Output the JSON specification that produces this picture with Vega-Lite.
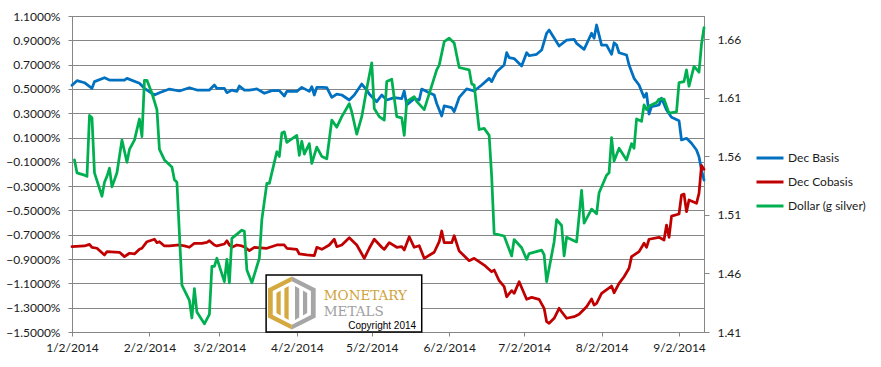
{
  "$schema": "https://vega.github.io/schema/vega-lite/v6.json",
  "width": 632,
  "height": 316,
  "autosize": {"type": "none"},
  "padding": {"left": 72, "top": 16, "right": 177, "bottom": 35},
  "background": "white",
  "config": {
    "font": "Lato",
    "view": {"stroke": "#868686", "strokeWidth": 1},
    "axis": {"labelFont": "Lato", "labelFontSize": 12, "labelColor": "#1a1a1a", "domainColor": "#868686", "tickColor": "#868686", "title": null},
    "legend": {"labelFont": "Lato", "labelFontSize": 12, "labelColor": "#1a1a1a"}
  },
  "datasets": {
    "logo": [
      {"x1": "2014-03-20T17:00:00Z", "x2": "2014-05-22T00:00:00Z", "y1": -1.03, "y2": -1.5, "cx": "2014-03-31T00:00:00Z", "cy": -1.261}
    ],
    "words": [
      {"t": "MONETARY", "x": "2014-04-12T19:00:00Z", "y": -1.237, "c": "#CFA33A"},
      {"t": "METALS", "x": "2014-04-12T19:00:00Z", "y": -1.368, "c": "#A0A0A0"}
    ],
    "copy": [
      {"t": "Copyright 2014", "x": "2014-05-19T18:00:00Z", "y": -1.476}
    ],
    "series": [
      {"d":"2014-01-02","s":"Dec Basis","v":0.53},
      {"d":"2014-01-04","s":"Dec Basis","v":0.568},
      {"d":"2014-01-07","s":"Dec Basis","v":0.551},
      {"d":"2014-01-10","s":"Dec Basis","v":0.505},
      {"d":"2014-01-11","s":"Dec Basis","v":0.56},
      {"d":"2014-01-15","s":"Dec Basis","v":0.592},
      {"d":"2014-01-17","s":"Dec Basis","v":0.573},
      {"d":"2014-01-23","s":"Dec Basis","v":0.573},
      {"d":"2014-01-24","s":"Dec Basis","v":0.587},
      {"d":"2014-01-29","s":"Dec Basis","v":0.546},
      {"d":"2014-01-31","s":"Dec Basis","v":0.505},
      {"d":"2014-02-04","s":"Dec Basis","v":0.45},
      {"d":"2014-02-06","s":"Dec Basis","v":0.469},
      {"d":"2014-02-10","s":"Dec Basis","v":0.499},
      {"d":"2014-02-14","s":"Dec Basis","v":0.483},
      {"d":"2014-02-18","s":"Dec Basis","v":0.51},
      {"d":"2014-02-21","s":"Dec Basis","v":0.491},
      {"d":"2014-02-26","s":"Dec Basis","v":0.491},
      {"d":"2014-02-28","s":"Dec Basis","v":0.532},
      {"d":"2014-03-01","s":"Dec Basis","v":0.505},
      {"d":"2014-03-04","s":"Dec Basis","v":0.505},
      {"d":"2014-03-05","s":"Dec Basis","v":0.469},
      {"d":"2014-03-07","s":"Dec Basis","v":0.49},
      {"d":"2014-03-09","s":"Dec Basis","v":0.48},
      {"d":"2014-03-10","s":"Dec Basis","v":0.524},
      {"d":"2014-03-12","s":"Dec Basis","v":0.49},
      {"d":"2014-03-14","s":"Dec Basis","v":0.49},
      {"d":"2014-03-17","s":"Dec Basis","v":0.5},
      {"d":"2014-03-20","s":"Dec Basis","v":0.464},
      {"d":"2014-03-23","s":"Dec Basis","v":0.486},
      {"d":"2014-03-26","s":"Dec Basis","v":0.486},
      {"d":"2014-03-28","s":"Dec Basis","v":0.442},
      {"d":"2014-03-29","s":"Dec Basis","v":0.48},
      {"d":"2014-04-02","s":"Dec Basis","v":0.48},
      {"d":"2014-04-04","s":"Dec Basis","v":0.513},
      {"d":"2014-04-07","s":"Dec Basis","v":0.48},
      {"d":"2014-04-08","s":"Dec Basis","v":0.518},
      {"d":"2014-04-09","s":"Dec Basis","v":0.45},
      {"d":"2014-04-10","s":"Dec Basis","v":0.513},
      {"d":"2014-04-12","s":"Dec Basis","v":0.513},
      {"d":"2014-04-14","s":"Dec Basis","v":0.51},
      {"d":"2014-04-16","s":"Dec Basis","v":0.43},
      {"d":"2014-04-18","s":"Dec Basis","v":0.458},
      {"d":"2014-04-20","s":"Dec Basis","v":0.45},
      {"d":"2014-04-23","s":"Dec Basis","v":0.409},
      {"d":"2014-04-25","s":"Dec Basis","v":0.45},
      {"d":"2014-04-28","s":"Dec Basis","v":0.54},
      {"d":"2014-04-30","s":"Dec Basis","v":0.491},
      {"d":"2014-05-01","s":"Dec Basis","v":0.458},
      {"d":"2014-05-04","s":"Dec Basis","v":0.395},
      {"d":"2014-05-06","s":"Dec Basis","v":0.45},
      {"d":"2014-05-08","s":"Dec Basis","v":0.409},
      {"d":"2014-05-11","s":"Dec Basis","v":0.428},
      {"d":"2014-05-14","s":"Dec Basis","v":0.42},
      {"d":"2014-05-15","s":"Dec Basis","v":0.483},
      {"d":"2014-05-16","s":"Dec Basis","v":0.368},
      {"d":"2014-05-19","s":"Dec Basis","v":0.42},
      {"d":"2014-05-21","s":"Dec Basis","v":0.409},
      {"d":"2014-05-22","s":"Dec Basis","v":0.499},
      {"d":"2014-05-25","s":"Dec Basis","v":0.469},
      {"d":"2014-05-27","s":"Dec Basis","v":0.45},
      {"d":"2014-05-28","s":"Dec Basis","v":0.38},
      {"d":"2014-05-30","s":"Dec Basis","v":0.277},
      {"d":"2014-05-31","s":"Dec Basis","v":0.36},
      {"d":"2014-06-03","s":"Dec Basis","v":0.346},
      {"d":"2014-06-04","s":"Dec Basis","v":0.313},
      {"d":"2014-06-06","s":"Dec Basis","v":0.43},
      {"d":"2014-06-09","s":"Dec Basis","v":0.5},
      {"d":"2014-06-12","s":"Dec Basis","v":0.483},
      {"d":"2014-06-15","s":"Dec Basis","v":0.532},
      {"d":"2014-06-18","s":"Dec Basis","v":0.587},
      {"d":"2014-06-19","s":"Dec Basis","v":0.56},
      {"d":"2014-06-21","s":"Dec Basis","v":0.642},
      {"d":"2014-06-24","s":"Dec Basis","v":0.697},
      {"d":"2014-06-25","s":"Dec Basis","v":0.798},
      {"d":"2014-06-26","s":"Dec Basis","v":0.757},
      {"d":"2014-06-28","s":"Dec Basis","v":0.75},
      {"d":"2014-07-01","s":"Dec Basis","v":0.689},
      {"d":"2014-07-03","s":"Dec Basis","v":0.798},
      {"d":"2014-07-04","s":"Dec Basis","v":0.773},
      {"d":"2014-07-07","s":"Dec Basis","v":0.785},
      {"d":"2014-07-09","s":"Dec Basis","v":0.82},
      {"d":"2014-07-11","s":"Dec Basis","v":0.958},
      {"d":"2014-07-12","s":"Dec Basis","v":0.985},
      {"d":"2014-07-16","s":"Dec Basis","v":0.853},
      {"d":"2014-07-19","s":"Dec Basis","v":0.902},
      {"d":"2014-07-22","s":"Dec Basis","v":0.908},
      {"d":"2014-07-23","s":"Dec Basis","v":0.875},
      {"d":"2014-07-26","s":"Dec Basis","v":0.826},
      {"d":"2014-07-29","s":"Dec Basis","v":0.958},
      {"d":"2014-07-30","s":"Dec Basis","v":0.917},
      {"d":"2014-07-31","s":"Dec Basis","v":1.026},
      {"d":"2014-08-02","s":"Dec Basis","v":0.861},
      {"d":"2014-08-04","s":"Dec Basis","v":0.861},
      {"d":"2014-08-06","s":"Dec Basis","v":0.785},
      {"d":"2014-08-07","s":"Dec Basis","v":0.88},
      {"d":"2014-08-08","s":"Dec Basis","v":0.861},
      {"d":"2014-08-09","s":"Dec Basis","v":0.798},
      {"d":"2014-08-12","s":"Dec Basis","v":0.779},
      {"d":"2014-08-13","s":"Dec Basis","v":0.697},
      {"d":"2014-08-15","s":"Dec Basis","v":0.587},
      {"d":"2014-08-17","s":"Dec Basis","v":0.532},
      {"d":"2014-08-19","s":"Dec Basis","v":0.431},
      {"d":"2014-08-20","s":"Dec Basis","v":0.464},
      {"d":"2014-08-21","s":"Dec Basis","v":0.294},
      {"d":"2014-08-22","s":"Dec Basis","v":0.354},
      {"d":"2014-08-25","s":"Dec Basis","v":0.368},
      {"d":"2014-08-26","s":"Dec Basis","v":0.423},
      {"d":"2014-08-28","s":"Dec Basis","v":0.327},
      {"d":"2014-08-30","s":"Dec Basis","v":0.267},
      {"d":"2014-09-02","s":"Dec Basis","v":0.239},
      {"d":"2014-09-03","s":"Dec Basis","v":0.08},
      {"d":"2014-09-05","s":"Dec Basis","v":0.094},
      {"d":"2014-09-07","s":"Dec Basis","v":0.053},
      {"d":"2014-09-09","s":"Dec Basis","v":-0.003},
      {"d":"2014-09-10","s":"Dec Basis","v":-0.058},
      {"d":"2014-09-11","s":"Dec Basis","v":-0.167},
      {"d":"2014-09-12","s":"Dec Basis","v":-0.25},

      {"d":"2014-01-02","s":"Dec Cobasis","v":-0.798},
      {"d":"2014-01-07","s":"Dec Cobasis","v":-0.792},
      {"d":"2014-01-09","s":"Dec Cobasis","v":-0.779},
      {"d":"2014-01-10","s":"Dec Cobasis","v":-0.803},
      {"d":"2014-01-12","s":"Dec Cobasis","v":-0.811},
      {"d":"2014-01-15","s":"Dec Cobasis","v":-0.866},
      {"d":"2014-01-16","s":"Dec Cobasis","v":-0.839},
      {"d":"2014-01-21","s":"Dec Cobasis","v":-0.844},
      {"d":"2014-01-23","s":"Dec Cobasis","v":-0.88},
      {"d":"2014-01-25","s":"Dec Cobasis","v":-0.852},
      {"d":"2014-01-27","s":"Dec Cobasis","v":-0.858},
      {"d":"2014-01-29","s":"Dec Cobasis","v":-0.82},
      {"d":"2014-01-30","s":"Dec Cobasis","v":-0.811},
      {"d":"2014-02-01","s":"Dec Cobasis","v":-0.757},
      {"d":"2014-02-04","s":"Dec Cobasis","v":-0.737},
      {"d":"2014-02-05","s":"Dec Cobasis","v":-0.765},
      {"d":"2014-02-06","s":"Dec Cobasis","v":-0.757},
      {"d":"2014-02-08","s":"Dec Cobasis","v":-0.792},
      {"d":"2014-02-10","s":"Dec Cobasis","v":-0.792},
      {"d":"2014-02-14","s":"Dec Cobasis","v":-0.784},
      {"d":"2014-02-16","s":"Dec Cobasis","v":-0.792},
      {"d":"2014-02-18","s":"Dec Cobasis","v":-0.803},
      {"d":"2014-02-20","s":"Dec Cobasis","v":-0.77},
      {"d":"2014-02-23","s":"Dec Cobasis","v":-0.77},
      {"d":"2014-02-25","s":"Dec Cobasis","v":-0.762},
      {"d":"2014-02-26","s":"Dec Cobasis","v":-0.749},
      {"d":"2014-02-28","s":"Dec Cobasis","v":-0.784},
      {"d":"2014-03-01","s":"Dec Cobasis","v":-0.792},
      {"d":"2014-03-04","s":"Dec Cobasis","v":-0.776},
      {"d":"2014-03-05","s":"Dec Cobasis","v":-0.749},
      {"d":"2014-03-06","s":"Dec Cobasis","v":-0.784},
      {"d":"2014-03-07","s":"Dec Cobasis","v":-0.803},
      {"d":"2014-03-09","s":"Dec Cobasis","v":-0.784},
      {"d":"2014-03-11","s":"Dec Cobasis","v":-0.792},
      {"d":"2014-03-12","s":"Dec Cobasis","v":-0.8},
      {"d":"2014-03-14","s":"Dec Cobasis","v":-0.831},
      {"d":"2014-03-16","s":"Dec Cobasis","v":-0.803},
      {"d":"2014-03-21","s":"Dec Cobasis","v":-0.811},
      {"d":"2014-03-25","s":"Dec Cobasis","v":-0.784},
      {"d":"2014-03-28","s":"Dec Cobasis","v":-0.784},
      {"d":"2014-03-29","s":"Dec Cobasis","v":-0.811},
      {"d":"2014-04-02","s":"Dec Cobasis","v":-0.82},
      {"d":"2014-04-03","s":"Dec Cobasis","v":-0.858},
      {"d":"2014-04-06","s":"Dec Cobasis","v":-0.866},
      {"d":"2014-04-09","s":"Dec Cobasis","v":-0.872},
      {"d":"2014-04-10","s":"Dec Cobasis","v":-0.803},
      {"d":"2014-04-12","s":"Dec Cobasis","v":-0.82},
      {"d":"2014-04-15","s":"Dec Cobasis","v":-0.784},
      {"d":"2014-04-17","s":"Dec Cobasis","v":-0.737},
      {"d":"2014-04-18","s":"Dec Cobasis","v":-0.798},
      {"d":"2014-04-20","s":"Dec Cobasis","v":-0.784},
      {"d":"2014-04-23","s":"Dec Cobasis","v":-0.724},
      {"d":"2014-04-26","s":"Dec Cobasis","v":-0.784},
      {"d":"2014-04-29","s":"Dec Cobasis","v":-0.894},
      {"d":"2014-05-01","s":"Dec Cobasis","v":-0.811},
      {"d":"2014-05-03","s":"Dec Cobasis","v":-0.737},
      {"d":"2014-05-06","s":"Dec Cobasis","v":-0.803},
      {"d":"2014-05-07","s":"Dec Cobasis","v":-0.82},
      {"d":"2014-05-09","s":"Dec Cobasis","v":-0.765},
      {"d":"2014-05-12","s":"Dec Cobasis","v":-0.803},
      {"d":"2014-05-14","s":"Dec Cobasis","v":-0.798},
      {"d":"2014-05-15","s":"Dec Cobasis","v":-0.825},
      {"d":"2014-05-17","s":"Dec Cobasis","v":-0.716},
      {"d":"2014-05-19","s":"Dec Cobasis","v":-0.803},
      {"d":"2014-05-21","s":"Dec Cobasis","v":-0.79},
      {"d":"2014-05-23","s":"Dec Cobasis","v":-0.894},
      {"d":"2014-05-27","s":"Dec Cobasis","v":-0.844},
      {"d":"2014-05-29","s":"Dec Cobasis","v":-0.757},
      {"d":"2014-05-30","s":"Dec Cobasis","v":-0.669},
      {"d":"2014-05-31","s":"Dec Cobasis","v":-0.765},
      {"d":"2014-06-03","s":"Dec Cobasis","v":-0.765},
      {"d":"2014-06-04","s":"Dec Cobasis","v":-0.708},
      {"d":"2014-06-06","s":"Dec Cobasis","v":-0.834},
      {"d":"2014-06-10","s":"Dec Cobasis","v":-0.913},
      {"d":"2014-06-12","s":"Dec Cobasis","v":-0.894},
      {"d":"2014-06-16","s":"Dec Cobasis","v":-0.949},
      {"d":"2014-06-19","s":"Dec Cobasis","v":-1.004},
      {"d":"2014-06-20","s":"Dec Cobasis","v":-0.99},
      {"d":"2014-06-22","s":"Dec Cobasis","v":-1.078},
      {"d":"2014-06-24","s":"Dec Cobasis","v":-1.127},
      {"d":"2014-06-25","s":"Dec Cobasis","v":-1.21},
      {"d":"2014-06-27","s":"Dec Cobasis","v":-1.16},
      {"d":"2014-06-28","s":"Dec Cobasis","v":-1.182},
      {"d":"2014-06-30","s":"Dec Cobasis","v":-1.086},
      {"d":"2014-07-03","s":"Dec Cobasis","v":-1.231},
      {"d":"2014-07-05","s":"Dec Cobasis","v":-1.215},
      {"d":"2014-07-08","s":"Dec Cobasis","v":-1.231},
      {"d":"2014-07-10","s":"Dec Cobasis","v":-1.305},
      {"d":"2014-07-11","s":"Dec Cobasis","v":-1.415},
      {"d":"2014-07-12","s":"Dec Cobasis","v":-1.428},
      {"d":"2014-07-14","s":"Dec Cobasis","v":-1.387},
      {"d":"2014-07-16","s":"Dec Cobasis","v":-1.305},
      {"d":"2014-07-17","s":"Dec Cobasis","v":-1.333},
      {"d":"2014-07-19","s":"Dec Cobasis","v":-1.387},
      {"d":"2014-07-22","s":"Dec Cobasis","v":-1.374},
      {"d":"2014-07-24","s":"Dec Cobasis","v":-1.354},
      {"d":"2014-07-27","s":"Dec Cobasis","v":-1.292},
      {"d":"2014-07-29","s":"Dec Cobasis","v":-1.228},
      {"d":"2014-07-30","s":"Dec Cobasis","v":-1.278},
      {"d":"2014-07-31","s":"Dec Cobasis","v":-1.264},
      {"d":"2014-08-02","s":"Dec Cobasis","v":-1.182},
      {"d":"2014-08-06","s":"Dec Cobasis","v":-1.122},
      {"d":"2014-08-07","s":"Dec Cobasis","v":-1.177},
      {"d":"2014-08-09","s":"Dec Cobasis","v":-1.1},
      {"d":"2014-08-11","s":"Dec Cobasis","v":-1.045},
      {"d":"2014-08-13","s":"Dec Cobasis","v":-0.976},
      {"d":"2014-08-14","s":"Dec Cobasis","v":-0.88},
      {"d":"2014-08-17","s":"Dec Cobasis","v":-0.839},
      {"d":"2014-08-19","s":"Dec Cobasis","v":-0.77},
      {"d":"2014-08-20","s":"Dec Cobasis","v":-0.803},
      {"d":"2014-08-21","s":"Dec Cobasis","v":-0.737},
      {"d":"2014-08-25","s":"Dec Cobasis","v":-0.721},
      {"d":"2014-08-27","s":"Dec Cobasis","v":-0.743},
      {"d":"2014-08-28","s":"Dec Cobasis","v":-0.62},
      {"d":"2014-08-29","s":"Dec Cobasis","v":-0.721},
      {"d":"2014-08-30","s":"Dec Cobasis","v":-0.546},
      {"d":"2014-09-02","s":"Dec Cobasis","v":-0.529},
      {"d":"2014-09-03","s":"Dec Cobasis","v":-0.373},
      {"d":"2014-09-04","s":"Dec Cobasis","v":-0.365},
      {"d":"2014-09-05","s":"Dec Cobasis","v":-0.51},
      {"d":"2014-09-06","s":"Dec Cobasis","v":-0.414},
      {"d":"2014-09-09","s":"Dec Cobasis","v":-0.441},
      {"d":"2014-09-10","s":"Dec Cobasis","v":-0.36},
      {"d":"2014-09-11","s":"Dec Cobasis","v":-0.13},
      {"d":"2014-09-12","s":"Dec Cobasis","v":-0.161},

      {"d":"2014-01-03","s":"Dollar (g silver)","v":1.557},
      {"d":"2014-01-04","s":"Dollar (g silver)","v":1.546},
      {"d":"2014-01-07","s":"Dollar (g silver)","v":1.544},
      {"d":"2014-01-08","s":"Dollar (g silver)","v":1.543},
      {"d":"2014-01-09","s":"Dollar (g silver)","v":1.595},
      {"d":"2014-01-10","s":"Dollar (g silver)","v":1.593},
      {"d":"2014-01-11","s":"Dollar (g silver)","v":1.546},
      {"d":"2014-01-14","s":"Dollar (g silver)","v":1.526},
      {"d":"2014-01-15","s":"Dollar (g silver)","v":1.538},
      {"d":"2014-01-16","s":"Dollar (g silver)","v":1.543},
      {"d":"2014-01-17","s":"Dollar (g silver)","v":1.55},
      {"d":"2014-01-18","s":"Dollar (g silver)","v":1.534},
      {"d":"2014-01-20","s":"Dollar (g silver)","v":1.546},
      {"d":"2014-01-22","s":"Dollar (g silver)","v":1.574},
      {"d":"2014-01-24","s":"Dollar (g silver)","v":1.555},
      {"d":"2014-01-25","s":"Dollar (g silver)","v":1.566},
      {"d":"2014-01-27","s":"Dollar (g silver)","v":1.574},
      {"d":"2014-01-29","s":"Dollar (g silver)","v":1.592},
      {"d":"2014-01-30","s":"Dollar (g silver)","v":1.577},
      {"d":"2014-01-31","s":"Dollar (g silver)","v":1.625},
      {"d":"2014-02-01","s":"Dollar (g silver)","v":1.625},
      {"d":"2014-02-03","s":"Dollar (g silver)","v":1.614},
      {"d":"2014-02-05","s":"Dollar (g silver)","v":1.6},
      {"d":"2014-02-06","s":"Dollar (g silver)","v":1.566},
      {"d":"2014-02-08","s":"Dollar (g silver)","v":1.557},
      {"d":"2014-02-11","s":"Dollar (g silver)","v":1.551},
      {"d":"2014-02-12","s":"Dollar (g silver)","v":1.54},
      {"d":"2014-02-13","s":"Dollar (g silver)","v":1.538},
      {"d":"2014-02-15","s":"Dollar (g silver)","v":1.45},
      {"d":"2014-02-18","s":"Dollar (g silver)","v":1.437},
      {"d":"2014-02-19","s":"Dollar (g silver)","v":1.422},
      {"d":"2014-02-20","s":"Dollar (g silver)","v":1.447},
      {"d":"2014-02-21","s":"Dollar (g silver)","v":1.427},
      {"d":"2014-02-24","s":"Dollar (g silver)","v":1.417},
      {"d":"2014-02-26","s":"Dollar (g silver)","v":1.425},
      {"d":"2014-02-27","s":"Dollar (g silver)","v":1.466},
      {"d":"2014-02-28","s":"Dollar (g silver)","v":1.466},
      {"d":"2014-03-01","s":"Dollar (g silver)","v":1.473},
      {"d":"2014-03-04","s":"Dollar (g silver)","v":1.453},
      {"d":"2014-03-05","s":"Dollar (g silver)","v":1.472},
      {"d":"2014-03-06","s":"Dollar (g silver)","v":1.452},
      {"d":"2014-03-07","s":"Dollar (g silver)","v":1.49},
      {"d":"2014-03-11","s":"Dollar (g silver)","v":1.497},
      {"d":"2014-03-12","s":"Dollar (g silver)","v":1.496},
      {"d":"2014-03-13","s":"Dollar (g silver)","v":1.463},
      {"d":"2014-03-15","s":"Dollar (g silver)","v":1.452},
      {"d":"2014-03-18","s":"Dollar (g silver)","v":1.473},
      {"d":"2014-03-19","s":"Dollar (g silver)","v":1.506},
      {"d":"2014-03-21","s":"Dollar (g silver)","v":1.537},
      {"d":"2014-03-22","s":"Dollar (g silver)","v":1.537},
      {"d":"2014-03-25","s":"Dollar (g silver)","v":1.564},
      {"d":"2014-03-26","s":"Dollar (g silver)","v":1.56},
      {"d":"2014-03-27","s":"Dollar (g silver)","v":1.58},
      {"d":"2014-03-28","s":"Dollar (g silver)","v":1.581},
      {"d":"2014-03-29","s":"Dollar (g silver)","v":1.572},
      {"d":"2014-04-02","s":"Dollar (g silver)","v":1.578},
      {"d":"2014-04-03","s":"Dollar (g silver)","v":1.561},
      {"d":"2014-04-04","s":"Dollar (g silver)","v":1.573},
      {"d":"2014-04-05","s":"Dollar (g silver)","v":1.562},
      {"d":"2014-04-07","s":"Dollar (g silver)","v":1.571},
      {"d":"2014-04-08","s":"Dollar (g silver)","v":1.554},
      {"d":"2014-04-10","s":"Dollar (g silver)","v":1.568},
      {"d":"2014-04-12","s":"Dollar (g silver)","v":1.56},
      {"d":"2014-04-14","s":"Dollar (g silver)","v":1.558},
      {"d":"2014-04-16","s":"Dollar (g silver)","v":1.591},
      {"d":"2014-04-18","s":"Dollar (g silver)","v":1.585},
      {"d":"2014-04-20","s":"Dollar (g silver)","v":1.594},
      {"d":"2014-04-23","s":"Dollar (g silver)","v":1.605},
      {"d":"2014-04-24","s":"Dollar (g silver)","v":1.598},
      {"d":"2014-04-26","s":"Dollar (g silver)","v":1.579},
      {"d":"2014-04-28","s":"Dollar (g silver)","v":1.594},
      {"d":"2014-04-30","s":"Dollar (g silver)","v":1.618},
      {"d":"2014-05-02","s":"Dollar (g silver)","v":1.64},
      {"d":"2014-05-03","s":"Dollar (g silver)","v":1.601},
      {"d":"2014-05-05","s":"Dollar (g silver)","v":1.594},
      {"d":"2014-05-07","s":"Dollar (g silver)","v":1.591},
      {"d":"2014-05-08","s":"Dollar (g silver)","v":1.624},
      {"d":"2014-05-10","s":"Dollar (g silver)","v":1.626},
      {"d":"2014-05-12","s":"Dollar (g silver)","v":1.594},
      {"d":"2014-05-14","s":"Dollar (g silver)","v":1.593},
      {"d":"2014-05-15","s":"Dollar (g silver)","v":1.578},
      {"d":"2014-05-16","s":"Dollar (g silver)","v":1.607},
      {"d":"2014-05-19","s":"Dollar (g silver)","v":1.611},
      {"d":"2014-05-20","s":"Dollar (g silver)","v":1.607},
      {"d":"2014-05-23","s":"Dollar (g silver)","v":1.6},
      {"d":"2014-05-28","s":"Dollar (g silver)","v":1.634},
      {"d":"2014-05-29","s":"Dollar (g silver)","v":1.638},
      {"d":"2014-05-31","s":"Dollar (g silver)","v":1.658},
      {"d":"2014-06-02","s":"Dollar (g silver)","v":1.661},
      {"d":"2014-06-04","s":"Dollar (g silver)","v":1.657},
      {"d":"2014-06-06","s":"Dollar (g silver)","v":1.636},
      {"d":"2014-06-10","s":"Dollar (g silver)","v":1.634},
      {"d":"2014-06-11","s":"Dollar (g silver)","v":1.622},
      {"d":"2014-06-12","s":"Dollar (g silver)","v":1.621},
      {"d":"2014-06-14","s":"Dollar (g silver)","v":1.583},
      {"d":"2014-06-16","s":"Dollar (g silver)","v":1.584},
      {"d":"2014-06-18","s":"Dollar (g silver)","v":1.578},
      {"d":"2014-06-19","s":"Dollar (g silver)","v":1.543},
      {"d":"2014-06-20","s":"Dollar (g silver)","v":1.494},
      {"d":"2014-06-24","s":"Dollar (g silver)","v":1.492},
      {"d":"2014-06-27","s":"Dollar (g silver)","v":1.475},
      {"d":"2014-06-28","s":"Dollar (g silver)","v":1.489},
      {"d":"2014-07-01","s":"Dollar (g silver)","v":1.482},
      {"d":"2014-07-03","s":"Dollar (g silver)","v":1.472},
      {"d":"2014-07-04","s":"Dollar (g silver)","v":1.477},
      {"d":"2014-07-09","s":"Dollar (g silver)","v":1.48},
      {"d":"2014-07-10","s":"Dollar (g silver)","v":1.476},
      {"d":"2014-07-11","s":"Dollar (g silver)","v":1.453},
      {"d":"2014-07-14","s":"Dollar (g silver)","v":1.487},
      {"d":"2014-07-15","s":"Dollar (g silver)","v":1.506},
      {"d":"2014-07-17","s":"Dollar (g silver)","v":1.501},
      {"d":"2014-07-18","s":"Dollar (g silver)","v":1.475},
      {"d":"2014-07-19","s":"Dollar (g silver)","v":1.491},
      {"d":"2014-07-23","s":"Dollar (g silver)","v":1.487},
      {"d":"2014-07-25","s":"Dollar (g silver)","v":1.531},
      {"d":"2014-07-26","s":"Dollar (g silver)","v":1.503},
      {"d":"2014-07-29","s":"Dollar (g silver)","v":1.515},
      {"d":"2014-07-31","s":"Dollar (g silver)","v":1.511},
      {"d":"2014-08-01","s":"Dollar (g silver)","v":1.529},
      {"d":"2014-08-04","s":"Dollar (g silver)","v":1.544},
      {"d":"2014-08-05","s":"Dollar (g silver)","v":1.546},
      {"d":"2014-08-06","s":"Dollar (g silver)","v":1.576},
      {"d":"2014-08-07","s":"Dollar (g silver)","v":1.556},
      {"d":"2014-08-09","s":"Dollar (g silver)","v":1.567},
      {"d":"2014-08-12","s":"Dollar (g silver)","v":1.557},
      {"d":"2014-08-14","s":"Dollar (g silver)","v":1.571},
      {"d":"2014-08-15","s":"Dollar (g silver)","v":1.567},
      {"d":"2014-08-16","s":"Dollar (g silver)","v":1.592},
      {"d":"2014-08-18","s":"Dollar (g silver)","v":1.59},
      {"d":"2014-08-19","s":"Dollar (g silver)","v":1.604},
      {"d":"2014-08-20","s":"Dollar (g silver)","v":1.6},
      {"d":"2014-08-21","s":"Dollar (g silver)","v":1.603},
      {"d":"2014-08-24","s":"Dollar (g silver)","v":1.606},
      {"d":"2014-08-25","s":"Dollar (g silver)","v":1.609},
      {"d":"2014-08-27","s":"Dollar (g silver)","v":1.609},
      {"d":"2014-08-28","s":"Dollar (g silver)","v":1.603},
      {"d":"2014-08-29","s":"Dollar (g silver)","v":1.597},
      {"d":"2014-09-01","s":"Dollar (g silver)","v":1.598},
      {"d":"2014-09-02","s":"Dollar (g silver)","v":1.623},
      {"d":"2014-09-04","s":"Dollar (g silver)","v":1.624},
      {"d":"2014-09-05","s":"Dollar (g silver)","v":1.634},
      {"d":"2014-09-06","s":"Dollar (g silver)","v":1.62},
      {"d":"2014-09-08","s":"Dollar (g silver)","v":1.637},
      {"d":"2014-09-10","s":"Dollar (g silver)","v":1.632},
      {"d":"2014-09-11","s":"Dollar (g silver)","v":1.656},
      {"d":"2014-09-12","s":"Dollar (g silver)","v":1.67}
    ]
  },
  "layer": [
    {
      "layer": [
        {
          "data": {"name": "series"},
          "transform": [{"filter": "datum.s !== 'Dollar (g silver)'"}],
          "mark": {"type": "line", "strokeWidth": 2.75, "strokeJoin": "round", "strokeCap": "round"},
          "encoding": {
            "x": {
              "field": "d",
              "type": "temporal",
              "scale": {
                "type": "utc",
                "domain": [{"year": 2014, "month": 1, "date": 2, "utc": true}, {"year": 2014, "month": 9, "date": 12, "utc": true}]
              },
              "axis": {
                "values": [
                  {"year": 2014, "month": 1, "date": 2, "utc": true},
                  {"year": 2014, "month": 2, "date": 2, "utc": true},
                  {"year": 2014, "month": 3, "date": 2, "utc": true},
                  {"year": 2014, "month": 4, "date": 2, "utc": true},
                  {"year": 2014, "month": 5, "date": 2, "utc": true},
                  {"year": 2014, "month": 6, "date": 2, "utc": true},
                  {"year": 2014, "month": 7, "date": 2, "utc": true},
                  {"year": 2014, "month": 8, "date": 2, "utc": true},
                  {"year": 2014, "month": 9, "date": 2, "utc": true}
                ],
                "tickCount": 30,
                "format": "%-m/%-d/%Y",
                "grid": false,
                "tickSize": 4,
                "labelPadding": 6,
                "labelFlush": false,
                "labelOverlap": false
              }
            },
            "y": {
              "field": "v",
              "type": "quantitative",
              "scale": {"domain": [-1.5, 1.1], "nice": false, "zero": false},
              "axis": {
                "orient": "left",
                "values": [-1.5, -1.3, -1.1, -0.9, -0.7, -0.5, -0.3, -0.1, 0.1, 0.3, 0.5, 0.7, 0.9, 1.1],
                "tickCount": 30,
                "labelExpr": "format(datum.value, '.4f') + '%'",
                "grid": true,
                "gridColor": "#868686",
                "gridWidth": 1,
                "gridOpacity": 1,
                "tickSize": 4,
                "labelPadding": 8,
                "labelFlush": false,
                "labelOverlap": false
              }
            },
            "color": {
              "field": "s",
              "type": "nominal",
              "scale": {
                "domain": ["Dec Basis", "Dec Cobasis", "Dollar (g silver)"],
                "range": ["#0070C0", "#C00000", "#00B050"]
              },
              "legend": {
                "title": null,
                "orient": "none",
                "legendX": 683,
                "legendY": 127,
                "padding": 0,
                "symbolType": "stroke",
                "symbolSize": 729,
                "symbolStrokeWidth": 3,
                "labelOffset": 3,
                "rowPadding": 3
              }
            }
          }
        },
        {
          "data": {"name": "logo"},
          "mark": {"type": "rect", "fill": "white", "stroke": "black", "strokeWidth": 1.5},
          "encoding": {
            "x": {"field": "x1", "type": "temporal"},
            "x2": {"field": "x2"},
            "y": {"field": "y1", "type": "quantitative"},
            "y2": {"field": "y2"}
          }
        },
        {
          "data": {"name": "logo"},
          "mark": {"type": "point", "filled": true, "opacity": 1, "size": 2809, "color": "#D4A93F", "strokeWidth": 0,
            "shape": "M0,-1 L-0.9,-0.55 L-0.9,0.55 L0,1 L0,0.82 L-0.72,0.45 L-0.72,-0.45 L0,-0.82 Z M-0.58,-0.38 L-0.42,-0.47 L-0.42,0.47 L-0.58,0.38 Z M-0.28,-0.55 L-0.12,-0.64 L-0.12,0.64 L-0.28,0.55 Z"},
          "encoding": {
            "x": {"field": "cx", "type": "temporal"},
            "y": {"field": "cy", "type": "quantitative"}
          }
        },
        {
          "data": {"name": "logo"},
          "mark": {"type": "point", "filled": true, "opacity": 1, "size": 2809, "color": "#A6A6A6", "strokeWidth": 0,
            "shape": "M0,-1 L0.9,-0.55 L0.9,0.55 L0,1 L0,0.82 L0.72,0.45 L0.72,-0.45 L0,-0.82 Z M0.58,-0.38 L0.42,-0.47 L0.42,0.47 L0.58,0.38 Z M0.28,-0.55 L0.12,-0.64 L0.12,0.64 L0.28,0.55 Z"},
          "encoding": {
            "x": {"field": "cx", "type": "temporal"},
            "y": {"field": "cy", "type": "quantitative"}
          }
        },
        {
          "data": {"name": "words"},
          "mark": {"type": "text", "font": "DejaVu Serif", "fontSize": 13.5, "align": "left", "baseline": "alphabetic"},
          "encoding": {
            "x": {"field": "x", "type": "temporal"},
            "y": {"field": "y", "type": "quantitative"},
            "text": {"field": "t"},
            "color": {"field": "c", "type": "nominal", "scale": null}
          }
        },
        {
          "data": {"name": "copy"},
          "mark": {"type": "text", "font": "Liberation Sans", "fontSize": 10, "align": "right", "baseline": "alphabetic", "color": "black"},
          "encoding": {
            "x": {"field": "x", "type": "temporal"},
            "y": {"field": "y", "type": "quantitative"},
            "text": {"field": "t"}
          }
        }
      ]
    },
    {
      "data": {"name": "series"},
      "transform": [{"filter": "datum.s === 'Dollar (g silver)'"}],
      "mark": {"type": "line", "strokeWidth": 2.75, "strokeJoin": "round", "strokeCap": "round"},
      "encoding": {
        "x": {"field": "d", "type": "temporal"},
        "y": {
          "field": "v",
          "type": "quantitative",
          "scale": {"domain": [1.41, 1.68], "nice": false, "zero": false},
          "axis": {
            "orient": "right",
            "values": [1.41, 1.46, 1.51, 1.56, 1.61, 1.66],
            "tickCount": 30,
            "format": ".2f",
            "grid": false,
            "tickSize": 5,
            "labelPadding": 8,
            "labelFlush": false,
            "labelOverlap": false
          }
        },
        "color": {"field": "s", "type": "nominal"}
      }
    }
  ],
  "resolve": {"scale": {"y": "independent"}, "axis": {"y": "independent"}}
}
